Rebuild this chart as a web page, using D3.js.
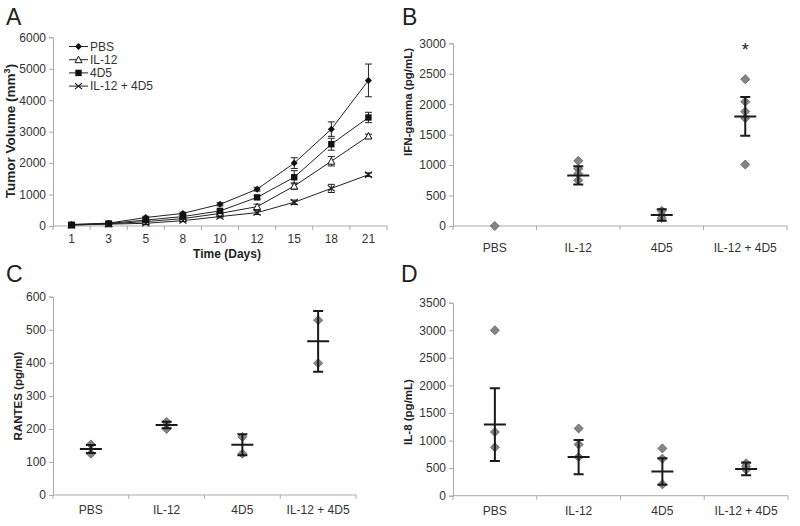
<!DOCTYPE html>
<html><head><meta charset="utf-8">
<script src="https://cdn.jsdelivr.net/npm/d3@7"></script>
<style>
body{margin:0;background:#fff;}
text{font-family:"Liberation Sans",Arial,sans-serif;}
</style></head>
<body><svg id="c" width="800" height="526"></svg>
<script>
// ---- Panel A data ----
const days = ["1","3","5","8","10","12","15","18","21"];
const seriesNames = ["PBS","IL-12","4D5","IL-12 + 4D5"];
const pbsVol   = [50, 90, 270, 400, 690, 1170, 2000, 3080, 4630];
const pbsErr   = [20, 20, 40, 40, 50, 60, 170, 230, 520];
const il12Vol  = [30, 70, 140, 235, 400, 615, 1270, 2060, 2860];
const il12Err  = [15, 15, 30, 30, 40, 80, 100, 150, 60];
const d45Vol   = [40, 80, 190, 300, 480, 910, 1550, 2600, 3450];
const d45Err   = [15, 20, 30, 30, 50, 60, 210, 190, 165];
const comboVol = [30, 60, 85, 170, 300, 425, 755, 1195, 1630];
const comboErr = [15, 15, 20, 30, 40, 60, 70, 130, 60];
const aTicks = [0,1000,2000,3000,4000,5000,6000];

// ---- Panels B,C,D data ----
const groups = ["PBS","IL-12","4D5","IL-12 + 4D5"];
const ifnPoints = [[0],[1070,940,860,750],[250,180,130],[2410,2040,1880,1770,1010]];
const ifnMean = [null, 830, 180, 1800];
const ifnErr  = [null, 150, 95, 320];
const ifnTicks = [0,500,1000,1500,2000,2500,3000];

const rantesPoints = [[153,125],[221,200],[176,125],[529,399]];
const rantesMean = [139, 212, 152, 465];
const rantesErr  = [12, 10, 32, 92];
const rantesTicks = [0,100,200,300,400,500,600];

const il8Points = [[3000,1155,877],[1220,930,700],[858,672,206],[590,530,470]];
const il8Mean = [1290, 700, 440, 485];
const il8Err  = [660, 310, 240, 115];
const il8Ticks = [0,500,1000,1500,2000,2500,3000,3500];

const svg = d3.select("#c");
const axisCol = "#aaa", textCol = "#333";

function styleAxis(g){
  g.selectAll("path").attr("stroke", axisCol);
  g.selectAll("line").attr("stroke", axisCol);
  g.selectAll("text").attr("fill", textCol).style("font-size","12px")
   .style("font-family",'"Liberation Sans",Arial,sans-serif');
}

function frame(cats, xr, yr, dom, ticks){
  const x = d3.scaleBand().domain(cats).range(xr);
  const y = d3.scaleLinear().domain(dom).range(yr);
  const gy = svg.append("g").attr("transform",`translate(${xr[0]},0)`)
    .call(d3.axisLeft(y).tickValues(ticks).tickSize(4).tickPadding(3).tickFormat(d3.format("d")));
  styleAxis(gy);
  const gx = svg.append("g").attr("transform",`translate(0,${yr[0]})`)
    .call(d3.axisBottom(x).tickSize(0).tickPadding(0));
  styleAxis(gx);
  gx.selectAll(".tick text").remove();
  const bounds = cats.map(c=>x(c)).concat([xr[1]]);
  gx.selectAll("line.bt").data(bounds).enter().append("line")
    .attr("x1",d=>d).attr("x2",d=>d).attr("y1",0).attr("y2",4).attr("stroke",axisCol);
  gx.select("path").attr("d",`M${xr[0]},0H${xr[1]}`);
  return {x,y,gx};
}

function panelLabel(t, x, y){
  svg.append("text").attr("x",x).attr("y",y).text(t)
    .style("font-size","23px").attr("fill","#222");
}
function yTitle(t, x, y){
  svg.append("text").attr("transform",`translate(${x},${y}) rotate(-90)`)
    .attr("text-anchor","middle").style("font-size","11.5px").style("font-weight","bold")
    .attr("fill","#222").text(t);
}

// ---------- Panel A ----------
panelLabel("A", 6, 25);
const A = frame(days, [53,387], [226,37.3], [0,6000], aTicks);
A.gx.selectAll("text.cl").data(days).enter().append("text")
  .attr("x",d=>A.x(d)+A.x.bandwidth()/2).attr("y",17).attr("text-anchor","middle")
  .attr("fill",textCol).style("font-size","12px").text(d=>d);
svg.append("text").attr("x",227).attr("y",258).attr("text-anchor","middle")
  .style("font-size","12px").style("font-weight","bold").attr("fill","#222").text("Time (Days)");
{
  const t = svg.append("text").attr("transform","translate(15,131) rotate(-90)")
    .attr("text-anchor","middle").style("font-size","13.5px").style("font-weight","bold").attr("fill","#222");
  t.append("tspan").text("Tumor Volume (mm");
  t.append("tspan").attr("dy",-5).style("font-size","9px").text("3");
  t.append("tspan").attr("dy",5).text(")");
}
const seriesVals = [pbsVol, il12Vol, d45Vol, comboVol];
const seriesErrs = [pbsErr, il12Err, d45Err, comboErr];
const cx = d => A.x(d)+A.x.bandwidth()/2;
const line = d3.line().x((v,i)=>cx(days[i])).y(v=>A.y(v));

function marker(g, type, x, y){
  if(type===0){
    g.append("path").attr("d",`M${x},${y-3.5}L${x+3.5},${y}L${x},${y+3.5}L${x-3.5},${y}Z`).attr("fill","#111");
  } else if(type===1){
    g.append("path").attr("d",`M${x},${y-3.5}L${x+3.5},${y+3}L${x-3.5},${y+3}Z`).attr("fill","#fff").attr("stroke","#111").attr("stroke-width",1);
  } else if(type===2){
    g.append("rect").attr("x",x-3.2).attr("y",y-3.2).attr("width",6.4).attr("height",6.4).attr("fill","#111");
  } else {
    g.append("path").attr("d",`M${x-3.5},${y-3}L${x+3.5},${y+3}M${x-3.5},${y+3}L${x+3.5},${y-3}`).attr("stroke","#111").attr("stroke-width",1.1);
  }
}
const ga = svg.append("g");
seriesVals.forEach((vals,s)=>{
  ga.append("path").attr("d",line(vals)).attr("fill","none").attr("stroke","#222").attr("stroke-width",1);
});
seriesVals.forEach((vals,s)=>{
  vals.forEach((v,i)=>{
    const x = cx(days[i]), e = seriesErrs[s][i];
    const y1 = A.y(v+e), y2 = A.y(v-e);
    ga.append("path").attr("d",`M${x},${y1}V${y2}M${x-3.5},${y1}H${x+3.5}M${x-3.5},${y2}H${x+3.5}`)
      .attr("stroke","#222").attr("stroke-width",1).attr("fill","none");
  });
});
seriesVals.forEach((vals,s)=>{
  vals.forEach((v,i)=>marker(ga, s, cx(days[i]), A.y(v)));
});
seriesNames.forEach((n,i)=>{
  const y = 46.5 + i*13.2;
  ga.append("line").attr("x1",69).attr("x2",88).attr("y1",y).attr("y2",y).attr("stroke","#222").attr("stroke-width",1);
  marker(ga, i, 78.5, y);
  ga.append("text").attr("x",90).attr("y",y+4.3).style("font-size","12px").attr("fill",textCol).text(n);
});

// ---------- dot panels ----------
function dotPanel(label, lx, ly, xr, yr, dom, ticks, title, tx, ty, pts, means, errs, catY){
  panelLabel(label, lx, ly);
  const P = frame(groups, xr, yr, dom, ticks);
  P.gx.selectAll("text.cl").data(groups).enter().append("text")
    .attr("x",d=>P.x(d)+P.x.bandwidth()/2).attr("y",catY).attr("text-anchor","middle")
    .attr("fill",textCol).style("font-size","12px").text(d=>d);
  yTitle(title, tx, ty);
  const g = svg.append("g");
  groups.forEach((gname,i)=>{
    const x = P.x(gname)+P.x.bandwidth()/2;
    pts[i].forEach(v=>{
      const y = P.y(v);
      g.append("path").attr("d",`M${x},${y-4.5}L${x+4.5},${y}L${x},${y+4.5}L${x-4.5},${y}Z`)
        .attr("fill","#858585").attr("stroke","#5a5a5a").attr("stroke-width",0.8);
    });
    if(means[i]!==null){
      const m = P.y(means[i]), y1 = P.y(means[i]+errs[i]), y2 = P.y(Math.max(0,means[i]-errs[i]));
      g.append("path").attr("d",`M${x},${y1}V${y2}M${x-5},${y1}H${x+5}M${x-5},${y2}H${x+5}M${x-11},${m}H${x+11}`)
        .attr("stroke","#1a1a1a").attr("stroke-width",2).attr("fill","none");
    }
  });
  return {P,g};
}

const B = dotPanel("B", 402, 25, [453,787], [226,43.3], [0,3000], ifnTicks, "IFN-gamma (pg/mL)", 412, 102,
  ifnPoints, ifnMean, ifnErr, 26);
B.g.append("text").attr("x",B.P.x("IL-12 + 4D5")+B.P.x.bandwidth()/2).attr("y",B.P.y(2920)+8)
  .attr("text-anchor","middle").style("font-size","18px").attr("fill","#222").text("*");

dotPanel("C", 6, 282, [53,356], [495,296.7], [0,600], rantesTicks, "RANTES (pg/ml)", 22, 396,
  rantesPoints, rantesMean, rantesErr, 19);
dotPanel("D", 401, 282, [453,788], [495.7,302.7], [0,3500], il8Ticks, "IL-8 (pg/mL)", 412, 412,
  il8Points, il8Mean, il8Err, 19);
</script></body></html>
